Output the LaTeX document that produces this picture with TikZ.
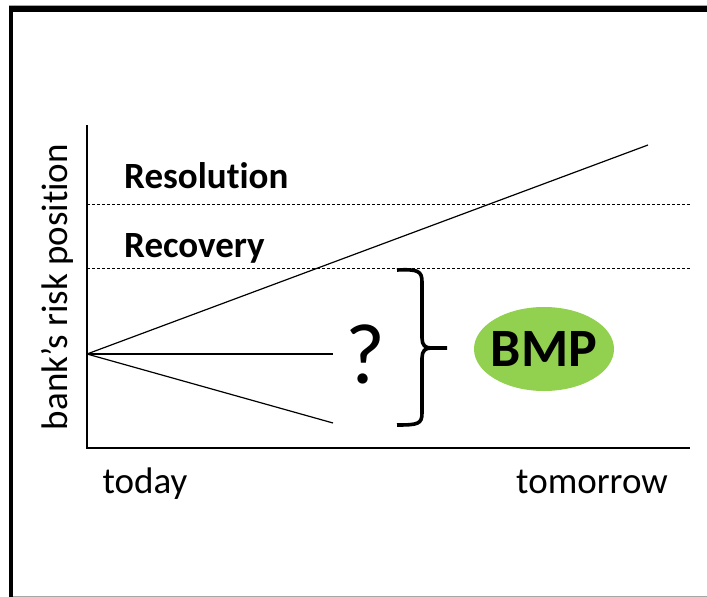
\documentclass[tikz,border=0pt]{standalone}
\usepackage{fontspec}
\setmainfont[Ligatures=NoCommon]{Carlito}
\usetikzlibrary{positioning,shapes.geometric}
\definecolor{bmpgreen}{HTML}{92D050}
\tikzset{
  axis/.style={line width=1.3pt},
  lvl/.style={line width=0.8pt, dash pattern=on 3pt off 2pt},
  path/.style={line width=1.2pt},
  zone/.style={font=\fontsize{37}{42}\selectfont\bfseries, anchor=base west, inner sep=0pt},
  tlbl/.style={font=\fontsize{37}{42}\selectfont, anchor=base, inner sep=0pt},
  brc/.style={line width=3.6pt, line cap=butt},
  bmp/.style={ellipse, fill=bmpgreen, minimum width=140pt, minimum height=84pt, inner xsep=-6pt, inner ysep=0pt, font=\fontsize{54}{60}\selectfont\bfseries},
}
\begin{document}
\begin{tikzpicture}[x=1pt, y=-1pt]
\useasboundingbox (0,0) rectangle (707,597);
% slide frame
\draw[gray!70, line width=1pt] (9,5) -- (707,5);
\draw[gray!70, line width=1pt] (9,596) -- (707,596);
\draw[line width=6pt] (9,9) -- (707,9);
\draw[line width=4.5pt] (11,6) -- (11,597);
% axes
\coordinate (ytop) at (87,125);
\coordinate (o) at (87,448);
\coordinate (xend) at (690,448);
\draw[axis] (ytop) -- (o) -- (xend);
% thresholds
\coordinate (res0) at (87,204);  \coordinate (res1) at (690,204);
\coordinate (rec0) at (87,268);  \coordinate (rec1) at (690,268);
\draw[lvl] (res0) -- (res1);
\draw[lvl] (rec0) -- (rec1);
\node[zone] (res) at (124,188) {Resolution};
\node[zone] (rec) at (124,257) {Recovery};
% scenarios
\coordinate (now) at (87,354);
\coordinate (up) at (648,145);
\coordinate (flat) at (333,354);
\coordinate (down) at (333,423);
\draw[path] (now) -- (up);
\draw[path] (now) -- (flat);
\draw[path] (now) -- (down);
\node[font=\fontsize{86}{94}\selectfont, anchor=base, inner sep=0pt] (q) at (365,383) {?};
% brace
\coordinate (btop) at (397,270);
\coordinate (btip) at (447,348);
\coordinate (bbot) at (397,425);
\draw[brc] (btop) .. controls (418,269) and (422,271) .. (422,282) -- (422,338)
  .. controls (422,345) and (425,348) .. (431,348) -- (btip);
\draw[brc] (431,348) .. controls (425,348) and (422,351) .. (422,358) -- (422,413)
  .. controls (422,424) and (418,425) .. (bbot);
\node[bmp] (plan) at (544,349) {BMP};
% labels
\node[tlbl, rotate=90] (ylbl) at (67,287) {bank’s risk position};
\node[tlbl] (today) at (145,493) {today};
\node[tlbl] (tmrw) at (592,493) {tomorrow};
\end{tikzpicture}
\end{document}
